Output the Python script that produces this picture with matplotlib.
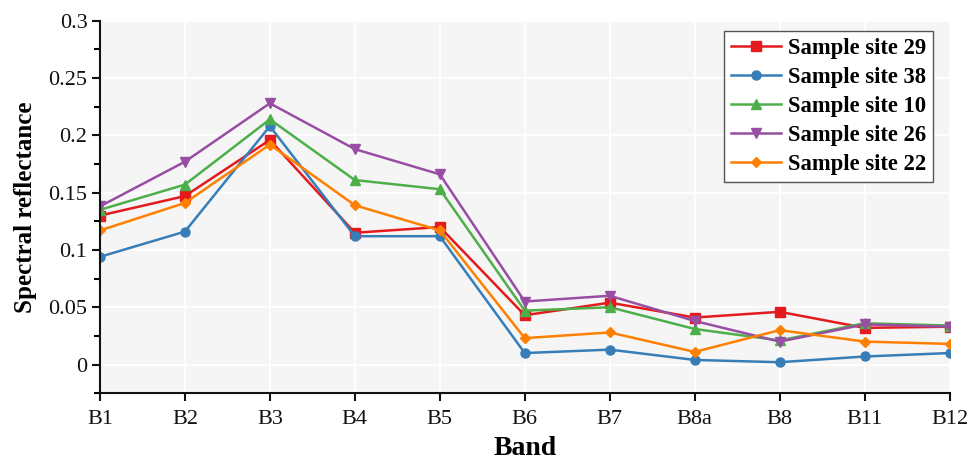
import numpy as np
import matplotlib
matplotlib.use('Agg')
import matplotlib.pyplot as plt
from matplotlib.ticker import MultipleLocator, FormatStrFormatter

# band names along the x axis
bands = ['B1', 'B2', 'B3', 'B4', 'B5', 'B6', 'B7', 'B8a', 'B8', 'B11', 'B12']

# spectral reflectance
site_29 = [0.130, 0.147, 0.196, 0.115, 0.120, 0.043, 0.054, 0.041, 0.046, 0.032, 0.033]
site_38 = [0.094, 0.116, 0.208, 0.112, 0.112, 0.010, 0.013, 0.004, 0.002, 0.007, 0.010]
site_10 = [0.135, 0.157, 0.214, 0.161, 0.153, 0.047, 0.050, 0.031, 0.021, 0.036, 0.034]
site_26 = [0.138, 0.177, 0.228, 0.188, 0.166, 0.055, 0.060, 0.038, 0.020, 0.035, 0.033]
site_22 = [0.117, 0.141, 0.192, 0.139, 0.117, 0.023, 0.028, 0.011, 0.030, 0.020, 0.018]

series = [
    ('Sample site 29', site_29, '#e41a1c', 's'),
    ('Sample site 38', site_38, '#377eb8', 'o'),
    ('Sample site 10', site_10, '#4daf4a', '^'),
    ('Sample site 26', site_26, '#984ea3', 'v'),
    ('Sample site 22', site_22, '#ff7f00', 'D'),
]

plt.rcParams['font.family'] = ['Liberation Serif', 'DejaVu Serif']

fig = plt.figure(figsize=(9.7, 4.62), dpi=100)
ax = fig.add_axes([0.103, 0.149, 0.876, 0.806])
ax.set_facecolor('#f5f5f5')

x = np.arange(len(bands))
for name, vals, color, marker in series:
    ax.plot(x, vals, color=color, marker=marker, markersize=6.5 if marker != 'D' else 5.5,
            linewidth=1.8, label=name)

ax.set_xlim(0, len(bands) - 1)
ax.set_ylim(-0.025, 0.3)
ax.set_xticks(x)
ax.set_xticklabels(bands)
ax.yaxis.set_major_locator(MultipleLocator(0.05))
ax.yaxis.set_minor_locator(MultipleLocator(0.025))
ax.yaxis.set_major_formatter(FormatStrFormatter('%g'))

ax.grid(which='major', color='white', linewidth=1.4)
ax.set_axisbelow(True)

for side in ['top', 'right']:
    ax.spines[side].set_visible(False)
for side in ['left', 'bottom']:
    ax.spines[side].set_linewidth(1.5)
    ax.spines[side].set_color('#111111')

ax.tick_params(axis='both', which='major', direction='out', length=5.5, width=1.5,
               labelsize=16, colors='#111111')
ax.tick_params(axis='x', which='major', pad=6.5)
ax.tick_params(axis='y', which='minor', direction='out', length=4, width=1.5)

ax.set_xlabel('Band', fontsize=20, fontweight='bold', labelpad=5)
ax.set_ylabel('Spectral reflectance', fontsize=18, fontweight='bold', labelpad=8)

leg = ax.legend(loc='upper right', bbox_to_anchor=(0.98, 0.973), borderaxespad=0,
                fancybox=False, framealpha=1, edgecolor='#555555',
                prop={'weight': 'bold', 'size': 16.3},
                handlelength=2.2, labelspacing=0.36, borderpad=0.3, handletextpad=0.3)
leg.get_frame().set_linewidth(1.0)

fig.savefig('out.png', dpi=100, facecolor='white')
